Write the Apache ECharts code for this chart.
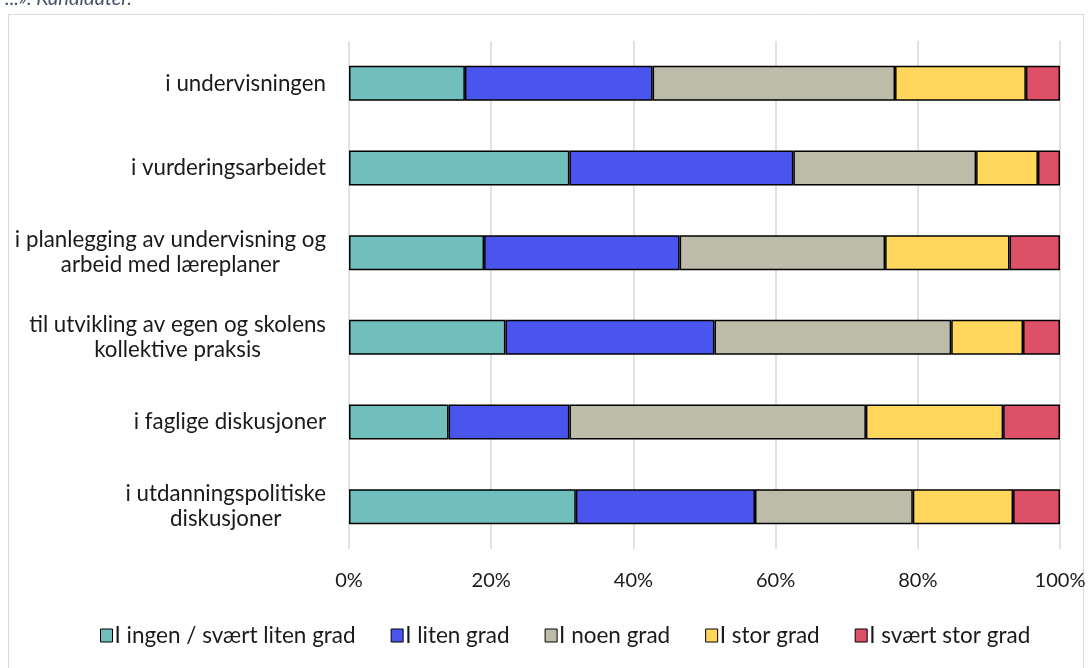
<!DOCTYPE html>
<html>
<head>
<meta charset="utf-8">
<script src="https://cdn.jsdelivr.net/npm/echarts@6/dist/echarts.min.js"></script>
<style>
  html, body { margin: 0; padding: 0; background: #ffffff; }
  #chart { width: 1092px; height: 668px; }
</style>
</head>
<body>
<div id="chart"></div>
<script>
const categories = [
  'i undervisningen',
  'i vurderingsarbeidet',
  'i planlegging av undervisning og\narbeid med læreplaner',
  'til utvikling av egen og skolens\nkollektive praksis',
  'i faglige diskusjoner',
  'i utdanningspolitiske\ndiskusjoner'
]
const seriesNames = ['I ingen / svært liten grad', 'I liten grad', 'I noen grad', 'I stor grad', 'I svært stor grad']
const colors = ['#70bfbc', '#4a55ee', '#bdbca9', '#ffd75c', '#de4f68']

const ingen = [16.3, 31.0, 19.0, 22.0, 14.0, 31.9]
const liten = [26.4, 31.5, 27.5, 29.4, 17.0, 25.2]
const noen = [34.1, 25.7, 28.9, 33.3, 41.7, 22.2]
const stor = [18.4, 8.7, 17.5, 10.1, 19.3, 14.1]
const sværtStor = [4.8, 3.1, 7.1, 5.2, 8.0, 6.6]
const values = [ingen, liten, noen, stor, sværtStor]

const font = 'Lato'

const chart = echarts.init(document.getElementById('chart'))

chart.setOption({
  animation: false,
  textStyle: { fontFamily: font },
  title: {
    text: '...». Kandidater.',
    left: 0,
    top: -16,
    textStyle: { fontFamily: font, fontSize: 20, fontStyle: 'italic', fontWeight: 'normal', color: '#44546a' }
  },
  graphic: [{
    type: 'rect',
    shape: { x: 8.5, y: 14.5, width: 1075, height: 660 },
    style: { fill: 'none', stroke: '#d9d9d9', lineWidth: 1 },
    silent: true
  }],
  legend: {
    bottom: 16,
    left: 95,
    itemWidth: 12,
    itemHeight: 13,
    itemGap: 35,
    icon: 'rect',
    itemStyle: { borderColor: '#000', borderWidth: 1 },
    textStyle: { fontFamily: font, fontSize: 22.5, color: '#1a1a1a', padding: [0, 0, 0, -3] },
    data: seriesNames
  },
  grid: { left: 349, right: 32, top: 41, bottom: 119 },
  xAxis: {
    type: 'value',
    min: 0,
    max: 100,
    interval: 20,
    axisLine: { show: false },
    axisTick: { show: false },
    splitLine: { lineStyle: { color: '#d9d9d9', width: 1.5 } },
    axisLabel: { formatter: '{value}%', fontFamily: font, fontSize: 20, color: '#1a1a1a', margin: 22 }
  },
  yAxis: {
    type: 'category',
    inverse: true,
    data: categories,
    axisLine: { show: false },
    axisTick: { show: false },
    axisLabel: {
      margin: 23,
      formatter: v => '{c|' + v.split('\n').join('}\n{c|') + '}',
      rich: { c: { align: 'center', fontFamily: font, fontSize: 22.3, color: '#1a1a1a', lineHeight: 25 } }
    }
  },
  series: values.map((d, i) => ({
    name: seriesNames[i],
    type: 'bar',
    stack: 'total',
    barWidth: 35,
    data: d,
    itemStyle: { color: colors[i], borderColor: '#000', borderWidth: 1.5 }
  }))
})
</script>
</body>
</html>
